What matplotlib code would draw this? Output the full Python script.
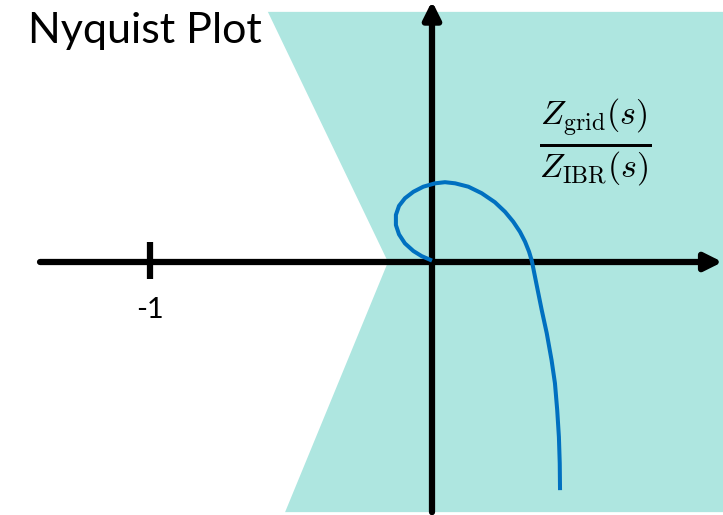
import numpy as np
import matplotlib.pyplot as plt
from matplotlib.patches import Polygon

# Nyquist curve of Z_grid/Z_IBR (real, imaginary parts)
curve_re = [0.0, -0.037, -0.066, -0.096, -0.117, -0.128, -0.128, -0.117, -0.096, -0.066,
            -0.031, 0.011, 0.046, 0.082, 0.129, 0.176, 0.223, 0.259, 0.288, 0.312,
            0.330, 0.344, 0.354, 0.370, 0.389, 0.407, 0.424, 0.436, 0.444, 0.450,
            0.453, 0.454]
curve_im = [0.005, 0.021, 0.039, 0.066, 0.098, 0.131, 0.167, 0.199, 0.226, 0.249,
            0.267, 0.279, 0.283, 0.279, 0.267, 0.244, 0.212, 0.178, 0.143, 0.107,
            0.072, 0.037, 0.004, -0.076, -0.170, -0.253, -0.348, -0.430, -0.525, -0.620,
            -0.714, -0.809]

# shaded sector (wedge with apex on the negative real axis)
region_re = [-0.582, -0.156, -0.521, 1.04, 1.04]
region_im = [0.887, 0.0, -0.887, -0.887, 0.887]

critical_point = -1

fig = plt.figure(figsize=(7.23, 5.15), dpi=100)
ax = fig.add_axes([0, 0, 1, 1])
ax.set_xlim(-432 / 282, 291 / 282)
ax.set_ylim(-253 / 282, 262 / 282)
ax.axis('off')

ax.add_patch(Polygon(np.column_stack([region_re, region_im]), closed=True,
                     facecolor='#aee6e0', edgecolor='none', zorder=1))

arrow = dict(arrowstyle='-|>,head_length=0.4,head_width=0.2', lw=4.5, color='black',
             mutation_scale=26, shrinkA=0, shrinkB=0)
ax.annotate('', xy=(1.03, 0), xytext=(-1.39, 0), arrowprops=arrow, zorder=2,
            annotation_clip=False)
ax.annotate('', xy=(0, 0.925), xytext=(0, -0.887), arrowprops=arrow, zorder=2,
            annotation_clip=False)

ax.plot([critical_point, critical_point], [-0.06, 0.071], color='black', lw=4.5,
        solid_capstyle='butt', zorder=2)
ax.text(critical_point, -0.17, '-1', ha='center', va='center', fontsize=21,
        family='Lato')

ax.plot(curve_re, curve_im, color='#0070c0', lw=2.9, solid_joinstyle='round',
        solid_capstyle='butt', zorder=3)

ax.text(-1.433, 0.777, 'Nyquist Plot', ha='left', va='baseline', fontsize=31,
        family='Lato')
ax.text(0.578, 0.426, r'$\frac{Z_{\mathrm{grid}}(s)}{Z_{\mathrm{IBR}}(s)}$',
        ha='center', va='center', fontsize=35, math_fontfamily='cm')

fig.savefig('out.png', dpi=100)
